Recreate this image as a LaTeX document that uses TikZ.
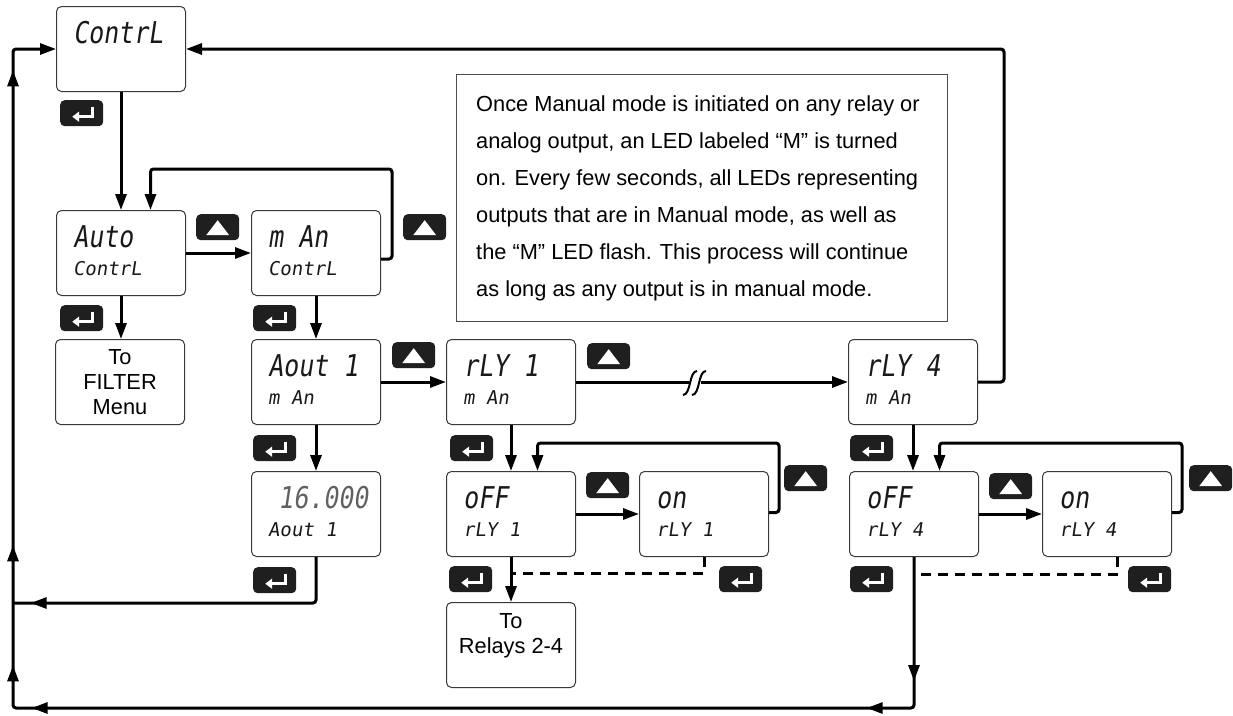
\documentclass[tikz,border=0pt]{standalone}
\usepackage{fontspec}
\setmainfont{Liberation Sans}
\newfontfamily\lcdbig{DejaVu Sans Mono}[FakeSlant=0.15,FakeStretch=0.83]
\newfontfamily\lcdsmall{DejaVu Sans Mono}[FakeSlant=0.15]
\usetikzlibrary{arrows.meta,calc,decorations.markings}
\newcommand\bigfont{\lcdbig\fontsize{30pt}{30pt}\selectfont}
\newcommand\smallfont{\lcdsmall\fontsize{19pt}{19pt}\selectfont}
\newcommand\dtext[3]{%
  \node[anchor=base west, font=\bigfont, inner sep=0pt, text=black!90] (#1-a) at ($(#1.north west)+(17,37)$) {#2};
  \node[anchor=base west, font=\smallfont, inner sep=0pt, text=black!90] (#1-b) at ($(#1.north west)+(17,65)$) {#3};}
\newcommand\enterbtn[3]{%
  \node[btn] (#1) at (#2,#3) {};
  \draw[white, line width=2.8pt, -{Triangle[length=7pt,width=10pt]}]
    ($(#1.center)+(11,-6.5)$) -- ($(#1.center)+(11,3.5)$) -- ($(#1.center)+(-9.5,3.5)$);}
\newcommand\upbtn[3]{%
  \node[btn] (#1) at (#2,#3) {};
  \fill[white] ($(#1.center)+(-11.5,8)$) -- ($(#1.center)+(11.5,8)$) -- ($(#1.center)+(0,-7)$) -- cycle;}
\begin{document}
\begin{tikzpicture}[x=1pt,y=-1pt,
  dbox/.style={draw=black!78, line width=1pt, rounded corners=5pt, minimum width=129pt,
    minimum height=85pt, inner sep=0pt, anchor=north west, fill=white},
  btn/.style={fill=black!88, rounded corners=4.5pt, minimum width=43pt, minimum height=26pt,
    inner sep=0pt, anchor=north west},
  tip/.style={-{Triangle[length=16pt,width=11pt]}},
  wire/.style={line width=3pt, rounded corners=3pt},
  conn/.style={wire, tip},
  dashline/.style={line width=3pt, dash pattern=on 10pt off 7pt},
  marr/.style={postaction={decorate,decoration={markings,
    mark=at position #1 with {\arrow{Triangle[length=16pt,width=11pt]}}}}},
  plain/.style={font=\fontsize{21.8pt}{25pt}\selectfont, align=center, inner sep=0pt}
]
\useasboundingbox (0,0) rectangle (1233,715);

% display boxes
\node[dbox] (cont) at (56,6) {};
\node[dbox] (auto) at (56,210) {};
\node[dbox] (man) at (251,210) {};
\node[dbox] (filt) at (55,339) {};
\node[dbox] (aout) at (251,339) {};
\node[dbox] (val) at (251,471) {};
\node[dbox] (r1) at (446,339) {};
\node[dbox] (off1) at (446,471) {};
\node[dbox] (on1) at (639,471) {};
\node[dbox] (rel) at (446,602) {};
\node[dbox] (r4) at (848,339) {};
\node[dbox] (off4) at (849,471) {};
\node[dbox] (on4) at (1042,471) {};

\dtext{cont}{ContrL}{}
\dtext{auto}{Auto}{ContrL}
\dtext{man}{m An}{ContrL}
\dtext{aout}{Aout 1}{m An}
\node[anchor=base west, font=\bigfont, inner sep=0pt, text=black!62] (val-a) at ($(val.north west)+(27,37)$) {16.000};
\node[anchor=base west, font=\smallfont, inner sep=0pt, text=black!90] (val-b) at ($(val.north west)+(17,65)$) {Aout 1};
\dtext{r1}{rLY 1}{m An}
\dtext{off1}{oFF}{rLY 1}
\dtext{on1}{on}{rLY 1}
\dtext{r4}{rLY 4}{m An}
\dtext{off4}{oFF}{rLY 4}
\dtext{on4}{on}{rLY 4}

\node[plain] (filt-t) at (filt.center) {To\\FILTER\\Menu};
\node[plain] (rel-t) at ($(rel.center)+(0,-9)$) {To\\Relays 2-4};

% note
\node[draw=black!70, line width=1pt, minimum width=491pt, minimum height=247pt,
  anchor=north west, inner sep=0pt] (note) at (456,74) {};
\node[anchor=north west, align=left, inner sep=0pt,
  font=\fontsize{21.8pt}{37pt}\selectfont] (note-t) at (476,95)
  {Once Manual mode is initiated on any relay or\\
   analog output, an LED labeled “M” is turned\\
   on. Every few seconds, all LEDs representing\\
   outputs that are in Manual mode, as well as\\
   the “M” LED flash. This process will continue\\
   as long as any output is in manual mode.};

% buttons
\enterbtn{e1}{60}{100}
\enterbtn{e2}{60}{305}
\enterbtn{e3}{253}{305}
\enterbtn{e4}{253}{435}
\enterbtn{e5}{253}{567}
\enterbtn{e6}{450}{435}
\enterbtn{e7}{449}{566}
\enterbtn{e8}{719}{566}
\enterbtn{e9}{850}{435}
\enterbtn{e10}{850}{566}
\enterbtn{e11}{1128}{566}
\upbtn{u1}{196}{214}
\upbtn{u2}{403}{214}
\upbtn{u3}{392}{342}
\upbtn{u4}{587}{343}
\upbtn{u5}{586}{472}
\upbtn{u6}{784}{465}
\upbtn{u7}{989}{473}
\upbtn{u8}{1189}{465}

% connectors
\draw[conn] (cont.south) -- (auto.north);
\draw[conn] (auto.east) -- (man.west);
\draw[conn] ([yshift=-6pt]man.east) -| (392,169) -| ([xshift=29.5pt]auto.north);
\draw[conn] (auto.south) -- (auto.south |- filt.north);
\draw[conn] (man.south) -- (aout.north);
\draw[conn] (aout.east) -- (r1.west);
\draw[conn] (aout.south) -- (val.north);
\coordinate (j1) at (13,603);
\draw[wire, marr=330pt] (val.south) |- (j1);
\draw[conn] (r1.east) -- (r4.west);
% break symbol
\fill[white] (688.5,374) rectangle (700.5,390);
\draw[line width=2pt] (683,395) .. controls (691,395) and (689,371) .. (697,371);
\draw[line width=2pt] (692,395) .. controls (700,395) and (698,371) .. (706,371);

\draw[conn] (r1.south) -- (off1.north);
\draw[conn] (off1.east) -- (on1.west);
\draw[conn] ([yshift=1.5pt]on1.east) -| (779,443) -| ([xshift=26.5pt]off1.north);
\draw[conn] (off1.south) -- (rel.north);
\draw[dashline] (on1.south) |- ($(off1.south)+(0,16)$);

\draw[conn] (r4.south) -- (r4.south |- off4.north);
\draw[conn] (off4.east) -- (on4.west);
\draw[conn] ([yshift=1.5pt]on4.east) -| (1182,443) -| ([xshift=25.5pt]off4.north);
\draw[dashline] ([xshift=10.5pt]on4.south) |- ($(off4.south)+(0,17)$);

\draw[conn] (r4.east) -- ++(26,0) |- (cont.east);
\draw[conn, marr=124pt, marr=197pt, marr=1032pt, marr=1092pt, marr=1212pt, marr=1687pt]
  (off4.south) |- (13,708) |- (cont.west);
\end{tikzpicture}
\end{document}
